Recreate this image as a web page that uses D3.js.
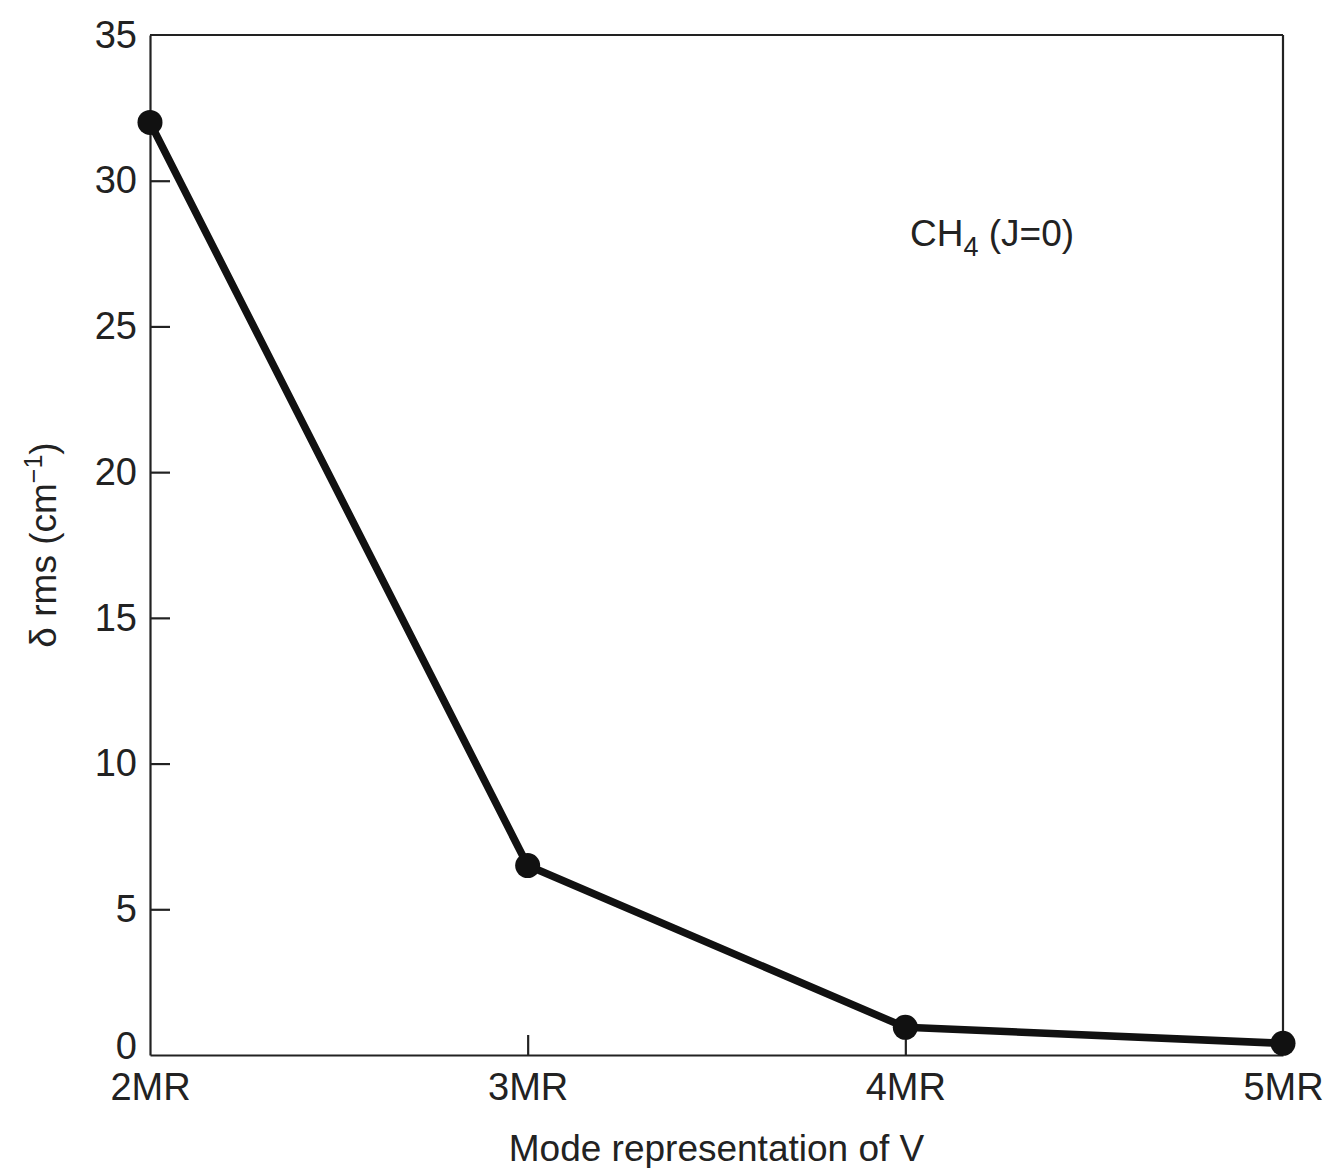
<!DOCTYPE html>
<html><head><meta charset="utf-8">
<script src="https://cdn.jsdelivr.net/npm/d3@7"></script>
<style>body{margin:0;background:#fff}svg text{font-family:"Liberation Sans",Arial,sans-serif;fill:#222}</style>
</head><body>
<svg id="c" width="1325" height="1168"></svg>
<script>
const categories = ["2MR","3MR","4MR","5MR"];
const deltaRms = [32.0, 6.5, 0.95, 0.4];
const yTicks = [0,5,10,15,20,25,30,35];

const svg = d3.select("#c");
const m = {l:150, r:1283, t:35, b:1055};
const x = d3.scalePoint().domain(categories).range([m.l, m.r]);
const y = d3.scaleLinear().domain([0,35]).range([m.b, m.t]);
const ink = "#222";

// frame
svg.append("line").attr("x1",m.l).attr("x2",m.r).attr("y1",m.t).attr("y2",m.t).attr("stroke",ink).attr("stroke-width",2.2);
svg.append("line").attr("x1",m.r).attr("x2",m.r).attr("y1",m.t).attr("y2",m.b).attr("stroke",ink).attr("stroke-width",2.2);

const ya = svg.append("g").attr("transform",`translate(${m.l},0)`)
  .call(d3.axisLeft(y).tickValues(yTicks).tickSizeInner(-20).tickSizeOuter(0).tickPadding(13));
ya.selectAll("text").attr("font-size",38).style("fill",ink);
ya.selectAll("line,path").attr("stroke",ink).attr("stroke-width",2.2);
ya.selectAll(".tick").filter(d=>d===0||d===35).select("line").remove();
ya.selectAll(".tick").filter(d=>d===0).select("text").attr("dy","0.1em");

const xa = svg.append("g").attr("transform",`translate(0,${m.b})`)
  .call(d3.axisBottom(x).tickSizeInner(-20).tickSizeOuter(0).tickPadding(30));
xa.selectAll("text").attr("font-size",38).attr("dy","0.4em").style("fill",ink);
xa.selectAll("line,path").attr("stroke",ink).attr("stroke-width",2.2);
xa.selectAll(".tick").filter(d=>d==="2MR"||d==="5MR").select("line").remove();

// line
const data = categories.map((c,i)=>({c, v:deltaRms[i]}));
svg.append("path").datum(data)
  .attr("d", d3.line().x(d=>x(d.c)).y(d=>y(d.v)))
  .attr("fill","none").attr("stroke","#111").attr("stroke-width",7.5).attr("stroke-linejoin","round");
svg.selectAll("circle.pt").data(data).join("circle")
  .attr("cx",d=>x(d.c)).attr("cy",d=>y(d.v)).attr("r",12.5).attr("fill","#111");

// titles
svg.append("text").attr("x",(m.l+m.r)/2).attr("y",1161).attr("text-anchor","middle")
  .attr("font-size",37).text("Mode representation of V");
const yt = svg.append("text").attr("transform",`translate(56,${(m.t+m.b)/2}) rotate(-90)`)
  .attr("text-anchor","middle").attr("font-size",37);
yt.append("tspan").text("δ rms (cm");
yt.append("tspan").attr("font-size",25).attr("dy",-14).text("−1");
yt.append("tspan").attr("dy",14).text(")");

const ann = svg.append("text").attr("x",910).attr("y",246).attr("font-size",37);
ann.append("tspan").text("CH");
ann.append("tspan").attr("font-size",27).attr("dy",10).text("4");
ann.append("tspan").attr("dy",-10).text(" (J=0)");
</script>
</body></html>
